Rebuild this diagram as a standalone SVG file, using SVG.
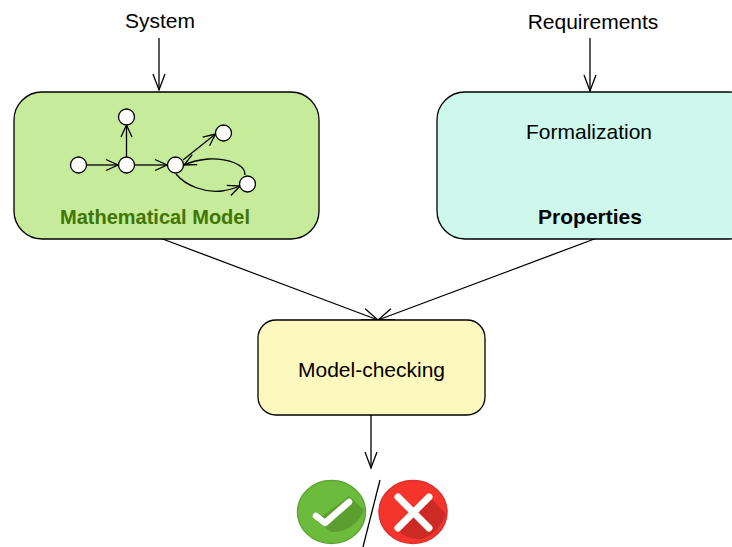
<svg xmlns="http://www.w3.org/2000/svg" width="732" height="547" viewBox="0 0 732 547">
<style>
text{font-family:"Liberation Sans",Arial,sans-serif;font-size:21px;fill:#000;text-anchor:middle}
.box{stroke:#000;stroke-width:1.3}
.c{fill:none;stroke:#000;stroke-width:1.3}
.s{stroke:#000;stroke-width:1.3;fill:#fff}
</style>
<defs>
<marker id="a" markerUnits="userSpaceOnUse" markerWidth="16" markerHeight="16" refX="14" refY="8" orient="auto"><path d="M2 2.5L14 8L2 13.5" fill="none" stroke="#000" stroke-width="1.3"/></marker>
<marker id="b" markerUnits="userSpaceOnUse" markerWidth="20" markerHeight="20" refX="18" refY="10" orient="auto"><path d="M2 4L18 10L2 16" fill="none" stroke="#000" stroke-width="1.3"/></marker>
</defs>
<g id="connectors">
<path class="c" marker-end="url(#b)" d="M159 38V90"/>
<path class="c" marker-end="url(#b)" d="M590 38V91"/>
<path class="c" marker-end="url(#b)" d="M590 152V197"/>
<path class="c" marker-end="url(#b)" d="M160 238L378 320"/>
<path class="c" marker-end="url(#b)" d="M597 238L378 320"/>
<path class="c" marker-end="url(#b)" d="M371 414V468"/>
<path d="M380 480L363 547" fill="none" stroke="#000" stroke-width="1.3"/>
</g>
<g id="mathematical-model">
<rect class="box" x="14" y="92" width="305" height="147" rx="28" fill="#c5eb9b"/>
<g class="c">
<path marker-end="url(#a)" d="M87 165H118"/>
<path marker-end="url(#a)" d="M126.500 157V125"/>
<path marker-end="url(#a)" d="M135 165H167"/>
<path marker-end="url(#a)" d="M183 160L215.500 134"/>
<path marker-end="url(#a)" d="M245 175C246 164 226 158 208 159C198 160 190 162 184 165"/>
<path marker-end="url(#a)" d="M176 174C186 186 205 193 222 191C230 190 235 188 240 186"/>
</g>
<circle class="s" cx="78.500" cy="165" r="8"/>
<circle class="s" cx="126.500" cy="165" r="8"/>
<circle class="s" cx="126.500" cy="117" r="8"/>
<circle class="s" cx="175.500" cy="165" r="8"/>
<circle class="s" cx="223.500" cy="133" r="8"/>
<circle class="s" cx="247.500" cy="184" r="8"/>
<text x="155" y="224" style="font-size:20px;font-weight:700;fill:#417505">Mathematical Model</text>
</g>
<g id="formalization">
<rect class="box" x="437" y="92" width="320" height="147" rx="28" fill="#cef8ec"/>
<text x="589" y="139">Formalization</text>
<text x="590" y="224" style="font-weight:700">Properties</text>
</g>
<g id="model-checking">
<rect class="box" x="258" y="320" width="227" height="95" rx="18" fill="#fdf8bd"/>
<text x="371.500" y="377">Model-checking</text>
</g>
<g id="system"><text x="160" y="28">System</text></g>
<g id="requirements"><text x="593" y="29">Requirements</text></g>
<g id="check">
<ellipse cx="331.500" cy="512" rx="34" ry="31.500" fill="#6cbb3c" stroke="#5fa535" stroke-width="1.500"/>
<path d="M316 521L331 532C345 533 358 525 364 510L349 496Z" fill="#5a9f2f"/>
<path d="M316 516L325 523L349 502" fill="none" stroke="#fff" stroke-width="6.500" stroke-linecap="round" stroke-linejoin="round"/>
</g>
<g id="cross">
<ellipse cx="413" cy="512" rx="34" ry="31.500" fill="#f5352b" stroke="#d8332b" stroke-width="1.500"/>
<path d="M397 528L402 534C424 548 440 530 446 514L429 496Z" fill="#cc2a25"/>
<path d="M398 497L429 528M429 497L398 528" fill="none" stroke="#fff" stroke-width="7" stroke-linecap="round"/>
</g>
</svg>
